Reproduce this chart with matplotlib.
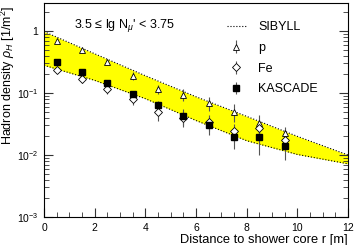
#!/usr/bin/env python3

import numpy as np
import matplotlib
matplotlib.use('Agg')
import matplotlib.pyplot as plt
from matplotlib.ticker import FixedLocator, MultipleLocator, NullFormatter

plt.rcParams['font.family'] = ['Liberation Sans', 'DejaVu Sans']
plt.rcParams['mathtext.fontset'] = 'custom'
plt.rcParams['mathtext.rm'] = 'Liberation Sans'
plt.rcParams['mathtext.it'] = 'Liberation Sans:italic'

# SIBYLL band edges read at a few distances
band_r = [0, 2, 4, 6, 8, 10, 12]
band_hi = [0.98, 0.43, 0.19, 0.087, 0.042, 0.020, 0.0100]
band_lo = [0.28, 0.16, 0.081, 0.036, 0.017, 0.0102, 0.0072]

r = [0.5, 1.5, 2.5, 3.5, 4.5, 5.5, 6.5, 7.5, 8.5, 9.5]
p_val = [0.70, 0.49, 0.32, 0.19, 0.117, 0.094, 0.069, 0.050, 0.033, 0.0227]
p_err = [0.05, 0.04, 0.03, 0.025, 0.02, 0.02, 0.018, 0.016, 0.011, 0.006]
fe_val = [0.235, 0.166, 0.115, 0.079, 0.050, 0.040, 0.034, 0.024, 0.027, 0.0175]
fe_err = [0.02, 0.02, 0.02, 0.015, 0.015, 0.01, 0.01, 0.008, 0.008, 0.006]
kas_val = [0.32, 0.216, 0.144, 0.096, 0.063, 0.042, 0.030, 0.0197, 0.0197, 0.014]
kas_err = [0.02, 0.015, 0.012, 0.01, 0.01, 0.014, 0.009, 0.007, 0.0097, 0.0057]

fig = plt.figure(figsize=(3.56, 2.45), dpi=100)
ax = fig.add_axes([44/356, 1-217/245, 304/356, 214/245])

ax.fill_between(band_r, band_lo, band_hi, color='#ffff00', lw=0)
ax.plot(band_r, band_hi, color='black', ls=':', lw=0.8)
ax.plot(band_r, band_lo, color='black', ls=':', lw=0.8, label='SIBYLL')

ebar = dict(ecolor='#555555', elinewidth=0.8, capsize=0, ls='none')
ax.errorbar(r, p_val, yerr=p_err, marker='^', ms=5, mfc='white',
            mec='black', mew=0.6, label='p', **ebar)
ax.errorbar(r, fe_val, yerr=fe_err, marker='D', ms=3.6, mfc='white',
            mec='black', mew=0.6, label='Fe', **ebar)
ax.errorbar(r, kas_val, yerr=kas_err, marker='s', ms=4.8, mfc='black',
            mec='black', label='KASCADE', **ebar)

ax.set_yscale('log')
ax.set_xlim(0, 12)
ax.set_ylim(1e-3, 2.83)

ax.xaxis.set_major_locator(MultipleLocator(2))
ax.xaxis.set_minor_locator(MultipleLocator(0.5))
ax.yaxis.set_major_locator(FixedLocator([1e-3, 1e-2, 1e-1, 1]))
ax.set_yticklabels([r'$10^{-3}$', r'$10^{-2}$', r'$10^{-1}$', '1'])
ax.yaxis.set_minor_formatter(NullFormatter())
ax.tick_params(which='both', direction='in', right=True, top=False,
               labelsize=7.5, color='#333333', pad=4)
ax.tick_params(which='major', length=6.5)
ax.tick_params(which='minor', length=3.5)
for s in ax.spines.values():
    s.set_linewidth(0.8)

ax.set_xlabel('Distance to shower core r [m]', fontsize=9.3, loc='right',
              labelpad=1)
ax.set_ylabel(r'Hadron density $\rho_H$ [1/m$^2$]', fontsize=9, loc='top')
ax.yaxis.set_label_coords(-0.088, 0.985)

ax.text(0.1, 0.895, "3.5 \u2264 lg N$_\\mu$' < 3.75", transform=ax.transAxes,
        fontsize=9, va='center')

ax.legend(loc='upper right', bbox_to_anchor=(0.925, 0.95), frameon=False,
          fontsize=9, handlelength=1.5, labelspacing=0.7,
          handletextpad=1.0, borderaxespad=0.2)

fig.savefig('out.png', dpi=100)
